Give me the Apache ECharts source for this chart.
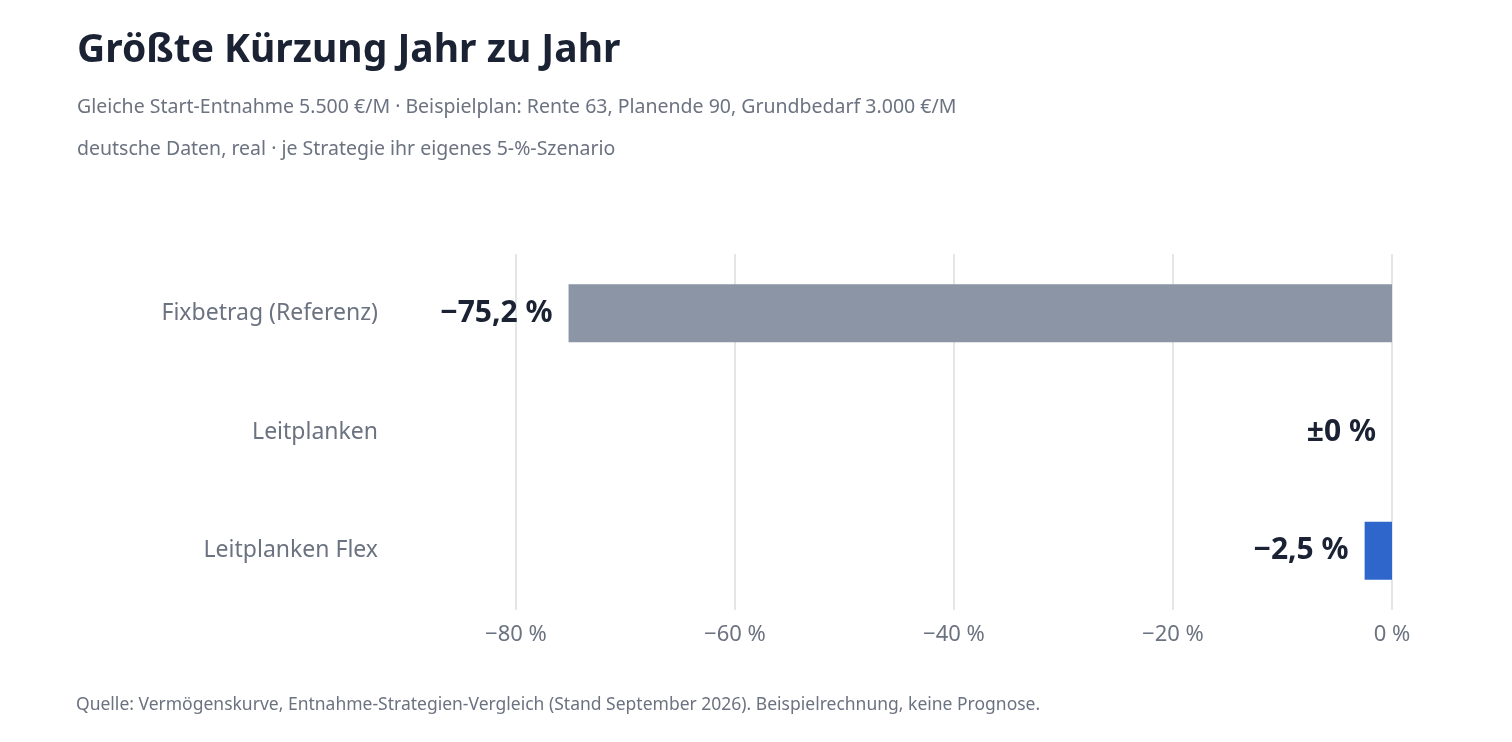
<!DOCTYPE html>
<html><head><meta charset="utf-8">
<script src="https://cdn.jsdelivr.net/npm/echarts@6/dist/echarts.min.js"></script>
<style>html,body{margin:0;background:#fff}#c{width:1512px;height:742px}</style>
</head><body><div id="c"></div>
<script>
const categories = ['Fixbetrag (Referenz)', 'Leitplanken', 'Leitplanken Flex'];
const values = [-75.2, 0, -2.5];
const valueLabels = ['−75,2 %', '±0 %', '−2,5 %'];
const barColors = ['#8b95a5', '#2f66cc', '#2f66cc'];
const xTicks = {'-80':'−80 %','-60':'−60 %','-40':'−40 %','-20':'−20 %','0':'0 %'};
const F = '"Noto Sans", Lato, sans-serif';
const chart = echarts.init(document.getElementById('c'));
chart.setOption({
  animation:false,
  title:{text:'Größte Kürzung Jahr zu Jahr',
    subtext:'Gleiche Start-Entnahme 5.500 €/M · Beispielplan: Rente 63, Planende 90, Grundbedarf 3.000 €/M\ndeutsche Daten, real · je Strategie ihr eigenes 5-%-Szenario',
    left:72, top:26, itemGap:16,
    textStyle:{fontFamily:F,fontSize:39,fontWeight:'bold',color:'#1a2233'},
    subtextStyle:{fontFamily:F,fontSize:19.5,color:'#6b7280',lineHeight:42}},
  graphic:[{type:'text',left:76,top:696,style:{text:'Quelle: Vermögenskurve, Entnahme-Strategien-Vergleich (Stand September 2026). Beispielrechnung, keine Prognose.',fontFamily:F,fontSize:17.5,fill:'#6b7280'}}],
  grid:{left:516,right:120,top:254,height:356},
  xAxis:{type:'value',min:-80,max:0,interval:20,
    axisLine:{show:false},axisTick:{show:false},
    splitLine:{lineStyle:{color:'#e3e5e8',width:2}},
    axisLabel:{formatter:v=>xTicks[String(v)]||'',fontFamily:F,fontSize:22,color:'#6b7280',margin:14}},
  yAxis:{type:'category',data:categories,inverse:true,
    axisLine:{show:false},axisTick:{show:false},
    axisLabel:{fontFamily:F,fontSize:23,color:'#6b7280',margin:138}},
  series:[{type:'bar',barWidth:58,
    data:values.map((v,i)=>({value:v,itemStyle:{color:barColors[i]}})),
    label:{show:true,position:'left',distance:16,formatter:p=>valueLabels[p.dataIndex],
      fontFamily:F,fontSize:30,fontWeight:'bold',color:'#1a2233'}}]
});
</script></body></html>
